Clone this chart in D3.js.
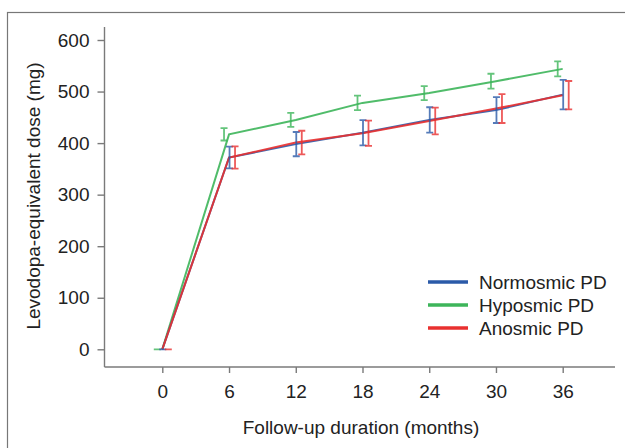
<!DOCTYPE html>
<html>
<head>
<meta charset="utf-8">
<script src="https://cdn.jsdelivr.net/npm/d3@7"></script>
<style>
  html, body { margin: 0; padding: 0; background: #fff; }
  svg { display: block; font-family: "Liberation Sans", Arial, sans-serif; }
</style>
</head>
<body>
<svg id="chart" width="625" height="448"></svg>
<script>
// ---- Data ----
const months = [0, 6, 12, 18, 24, 30, 36];
const seriesNames = ["Normosmic PD", "Hyposmic PD", "Anosmic PD"];
const normosmicMean = [0, 372, 398, 420, 445, 464, 494];
const normosmicErr  = [0, 21, 23.5, 24.5, 24.5, 25, 28.5];
const hyposmicMean  = [0, 417, 445, 478, 497, 520, 544];
const hyposmicErr   = [0, 12, 13.5, 14, 13.5, 14.5, 14.5];
const anosmicMean   = [0, 372, 401, 419, 443, 467, 493];
const anosmicErr    = [0, 21.5, 23, 24.5, 26, 28, 27.5];
const yTicks = [0, 100, 200, 300, 400, 500, 600];

// ---- Styles ----
const colors = { "Normosmic PD": "#2b5aa8", "Hyposmic PD": "#3db55a", "Anosmic PD": "#e9302f" };
const dodge  = { "Normosmic PD": 0.5, "Hyposmic PD": -5, "Anosmic PD": 6 };
const FONT = 19;
const TEXT = "#222";
const AXIS = "#7a7a7a";

const series = [
  { name: "Hyposmic PD", mean: hyposmicMean, err: hyposmicErr },
  { name: "Normosmic PD", mean: normosmicMean, err: normosmicErr },
  { name: "Anosmic PD", mean: anosmicMean, err: anosmicErr }
];

const svg = d3.select("#chart");

// Frame
svg.append("rect").attr("x", 7.5).attr("y", 12.5).attr("width", 640).attr("height", 460)
  .attr("fill", "none").attr("stroke", "#777").attr("stroke-width", 1.2);

// Scales
const x = d3.scaleLinear().domain([0, 36]).range([162.3, 562.7]);
const y = d3.scaleLinear().domain([0, 600]).range([349.3, 40]);
const xAxisY = 367, yAxisX = 104.5;

// Axes
const xAxis = svg.append("g").attr("transform", `translate(0,${xAxisY})`)
  .call(d3.axisBottom(x).tickValues(months).tickSize(6).tickPadding(11.5).tickSizeOuter(0));
xAxis.select(".domain").attr("d", `M${yAxisX},0H615`);
const yAxis = svg.append("g").attr("transform", `translate(${yAxisX},0)`)
  .call(d3.axisLeft(y).tickValues(yTicks).tickSize(7).tickPadding(8).tickSizeOuter(0));
yAxis.select(".domain").attr("d", `M0,27V${xAxisY}`);

[xAxis, yAxis].forEach(g => {
  g.selectAll(".domain, .tick line").attr("stroke", AXIS).attr("stroke-width", 1.4);
  g.selectAll(".tick text").attr("fill", TEXT).attr("font-size", FONT)
    .attr("font-family", "'Liberation Sans', Arial, sans-serif");
});

// Axis titles
svg.append("text").attr("x", 361).attr("y", 433.5).attr("text-anchor", "middle")
  .attr("font-size", FONT).attr("fill", TEXT).text("Follow-up duration (months)");
svg.append("text").attr("transform", "translate(40,196) rotate(-90)").attr("text-anchor", "middle")
  .attr("font-size", FONT).attr("fill", TEXT).text("Levodopa-equivalent dose (mg)");

// Lines
const line = d3.line().x((d, i) => x(months[i])).y(d => y(d));
const plot = svg.append("g");
series.forEach(s => {
  plot.append("path").datum(s.mean).attr("d", line)
    .attr("fill", "none").attr("stroke", colors[s.name]).attr("stroke-width", 2)
    .attr("stroke-opacity", 0.9);
});

// Error bars
const capW = 3.5;
series.forEach(s => {
  const g = plot.append("g").attr("stroke", colors[s.name]).attr("stroke-width", 1.8)
    .attr("stroke-opacity", 0.8).attr("fill", "none");
  months.forEach((m, i) => {
    const cx = x(m) + dodge[s.name];
    const y1 = y(s.mean[i] + s.err[i]), y2 = y(s.mean[i] - s.err[i]);
    g.append("path").attr("d",
      `M${cx},${y1}V${y2}M${cx - capW},${y1}H${cx + capW}M${cx - capW},${y2}H${cx + capW}`);
  });
});

// Legend
const legend = svg.append("g");
["Normosmic PD", "Hyposmic PD", "Anosmic PD"].forEach((name, i) => {
  const ly = 282 + i * 23;
  legend.append("line").attr("x1", 428).attr("x2", 468).attr("y1", ly).attr("y2", ly)
    .attr("stroke", colors[name]).attr("stroke-width", 3.5);
  legend.append("text").attr("x", 479).attr("y", ly).attr("dy", "0.36em")
    .attr("font-size", FONT).attr("fill", TEXT).text(name);
});
</script>
</body>
</html>
